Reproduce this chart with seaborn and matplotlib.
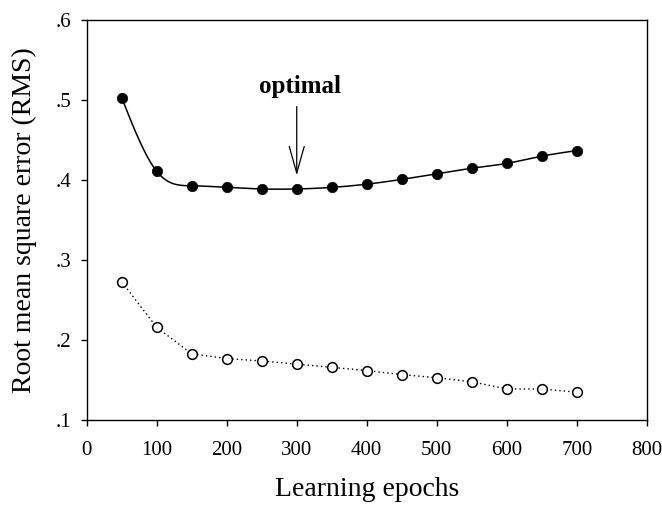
import numpy as np
import pandas as pd
import matplotlib
matplotlib.use("Agg")
import matplotlib.pyplot as plt
import seaborn as sns

# Learning epochs and RMS error per series
epochs = [50, 100, 150, 200, 250, 300, 350, 400, 450, 500, 550, 600, 650, 700]
rms_test = [0.503, 0.411, 0.393, 0.391, 0.389, 0.389, 0.391, 0.395, 0.401,
            0.408, 0.415, 0.421, 0.430, 0.437]
rms_train = [0.273, 0.216, 0.183, 0.177, 0.174, 0.170, 0.166, 0.162, 0.157,
             0.153, 0.148, 0.139, 0.139, 0.135]

x_ticks = [0, 100, 200, 300, 400, 500, 600, 700, 800]
y_ticks = [0.1, 0.2, 0.3, 0.4, 0.5, 0.6]
y_tick_labels = [".1", ".2", ".3", ".4", ".5", ".6"]
optimal_epoch = 300


def natural_spline(x, y, n=400):
    """Natural cubic spline through (x, y), evaluated on a dense grid."""
    x = np.asarray(x, float)
    y = np.asarray(y, float)
    k = len(x)
    h = np.diff(x)
    A = np.zeros((k, k))
    b = np.zeros(k)
    A[0, 0] = A[-1, -1] = 1.0
    for i in range(1, k - 1):
        A[i, i - 1] = h[i - 1]
        A[i, i] = 2 * (h[i - 1] + h[i])
        A[i, i + 1] = h[i]
        b[i] = 3 * ((y[i + 1] - y[i]) / h[i] - (y[i] - y[i - 1]) / h[i - 1])
    c = np.linalg.solve(A, b)
    bb = (np.diff(y) / h) - h * (2 * c[:-1] + c[1:]) / 3
    d = np.diff(c) / (3 * h)
    xs = np.linspace(x[0], x[-1], n)
    idx = np.clip(np.searchsorted(x, xs, side="right") - 1, 0, k - 2)
    t = xs - x[idx]
    ys = y[idx] + bb[idx] * t + c[idx] * t ** 2 + d[idx] * t ** 3
    return xs, ys


sns.set_theme(style="ticks")
plt.rcParams["font.family"] = ["Liberation Serif", "DejaVu Serif"]
plt.rcParams["text.color"] = "black"
plt.rcParams["axes.labelcolor"] = "black"

df = pd.DataFrame({"epoch": epochs, "test": rms_test, "train": rms_train})
xs, ys = natural_spline(epochs, rms_test)
smooth = pd.DataFrame({"epoch": xs, "test": ys})

fig = plt.figure(figsize=(6.62, 5.05), dpi=100)
ax = fig.add_axes([0.131, 0.168, 0.846, 0.792])

# Smoothed curve with filled markers
sns.lineplot(data=smooth, x="epoch", y="test", ax=ax, color="black", lw=1.1)
sns.scatterplot(data=df, x="epoch", y="test", ax=ax, color="black", s=56,
                edgecolor="black", linewidth=0.5, zorder=3)

# Dotted series with open markers
sns.lineplot(data=df, x="epoch", y="train", ax=ax, color="black", lw=1.0,
             linestyle=(0, (1, 2.2)), marker="o", markersize=7,
             markerfacecolor="white", markeredgecolor="black",
             markeredgewidth=1.1)

ax.set_xlim(0, 800)
ax.set_ylim(0.1, 0.6)
ax.set_xticks(x_ticks)
ax.set_xticklabels([str(t) for t in x_ticks])
ax.set_yticks(y_ticks)
ax.set_yticklabels(y_tick_labels)
ax.tick_params(axis="both", direction="out", length=4.3, width=1,
               labelsize=15, color="black", labelcolor="black")
ax.tick_params(axis="x", pad=11)
ax.tick_params(axis="y", pad=7)
for side in ["top", "right", "bottom", "left"]:
    ax.spines[side].set_visible(True)
    ax.spines[side].set_color("black")
    ax.spines[side].set_linewidth(1.0)

ax.set_xlabel("Learning epochs", fontsize=20, labelpad=12)
ax.set_ylabel("Root mean square error (RMS)", fontsize=20, labelpad=13)

ax.annotate("", xy=(optimal_epoch, 0.406), xytext=(optimal_epoch, 0.492),
            arrowprops=dict(arrowstyle="->,head_length=1.6,head_width=0.45",
                            color="black", lw=0.9, shrinkA=0, shrinkB=0))
ax.text(optimal_epoch + 4, 0.517, "optimal", ha="center", va="center",
        fontsize=18, fontweight="bold")

fig.savefig("out.png", dpi=100)
